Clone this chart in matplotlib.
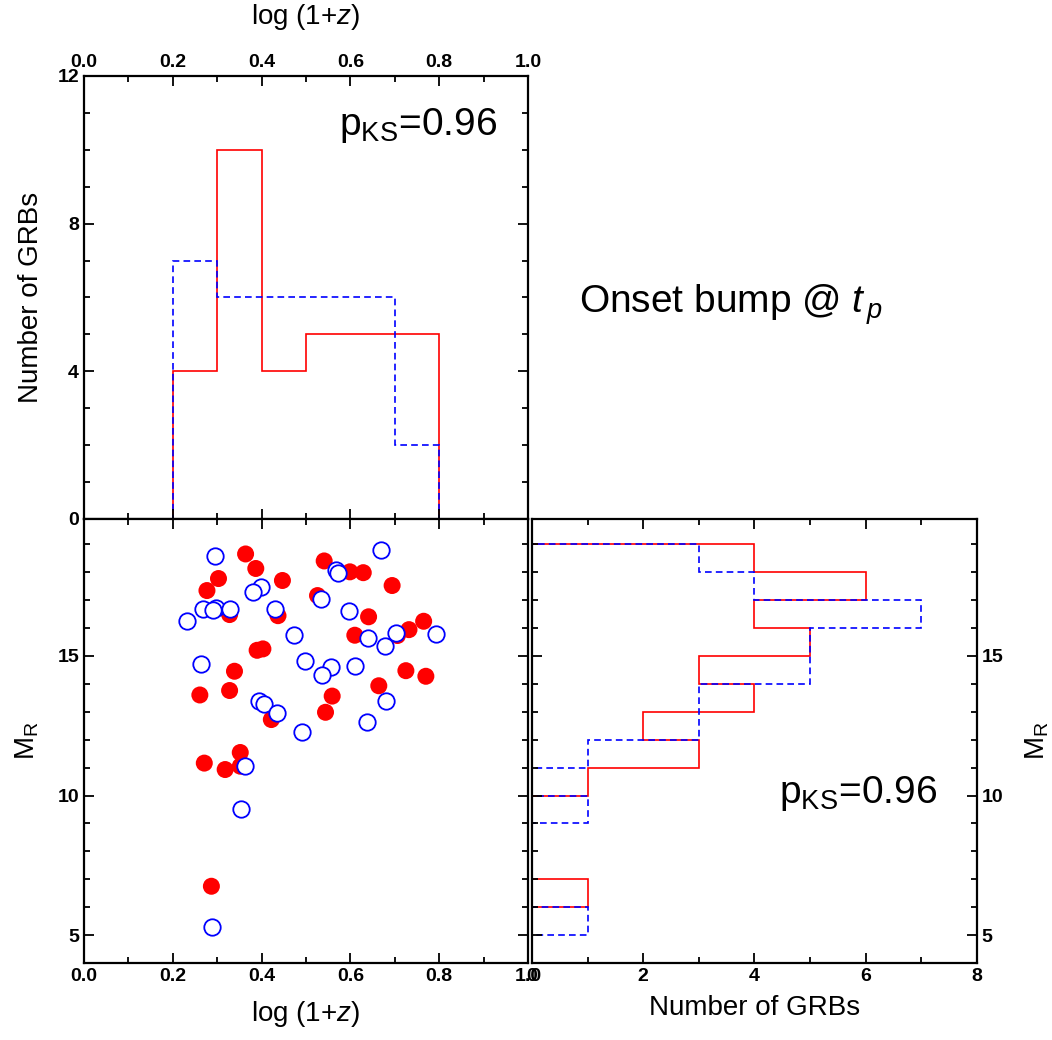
import numpy as np
import matplotlib
matplotlib.use("Agg")
import matplotlib.pyplot as plt

plt.rcParams['font.family'] = ['Liberation Sans', 'DejaVu Sans']
plt.rcParams['mathtext.fontset'] = 'custom'
plt.rcParams['mathtext.rm'] = 'Liberation Sans'
plt.rcParams['mathtext.it'] = 'Liberation Sans:italic'

# ---- data ----
# filled red sample: log(1+z), M_R
red_logz = [0.364, 0.387, 0.303, 0.277, 0.447, 0.541, 0.599, 0.629, 0.694, 0.526,
            0.328, 0.437, 0.641, 0.610, 0.732, 0.765, 0.706, 0.390, 0.403, 0.339,
            0.328, 0.261, 0.725, 0.770, 0.664, 0.559, 0.544, 0.422, 0.352, 0.271,
            0.318, 0.352, 0.287]
red_mr = [18.65, 18.13, 17.77, 17.34, 17.70, 18.40, 18.01, 17.98, 17.52, 17.16,
          16.48, 16.44, 16.40, 15.74, 15.94, 16.24, 15.73, 15.20, 15.25, 14.45,
          13.76, 13.60, 14.47, 14.27, 13.93, 13.56, 12.98, 12.72, 11.54, 11.16,
          10.93, 11.05, 6.75]

# open blue sample: log(1+z), M_R
blue_logz = [0.294, 0.670, 0.567, 0.572, 0.398, 0.381, 0.534, 0.267, 0.297, 0.291,
             0.330, 0.430, 0.231, 0.597, 0.472, 0.640, 0.703, 0.679, 0.793, 0.264,
             0.498, 0.557, 0.536, 0.610, 0.395, 0.405, 0.435, 0.680, 0.638, 0.491,
             0.363, 0.354, 0.288]
blue_mr = [18.57, 18.78, 18.07, 17.98, 17.46, 17.29, 17.03, 16.67, 16.70, 16.63,
           16.68, 16.68, 16.25, 16.61, 15.74, 15.63, 15.82, 15.37, 15.80, 14.70,
           14.82, 14.61, 14.31, 14.65, 13.40, 13.29, 12.95, 13.37, 12.62, 12.29,
           11.05, 9.52, 5.29]

z_edges = np.round(np.arange(0, 1.01, 0.1), 2)
mr_edges = np.arange(4, 20, 1)

red_z_counts, _ = np.histogram(red_logz, bins=z_edges)
blue_z_counts, _ = np.histogram(blue_logz, bins=z_edges)
red_mr_counts, _ = np.histogram(red_mr, bins=mr_edges)
blue_mr_counts, _ = np.histogram(blue_mr, bins=mr_edges)

RED = '#ff0000'
BLUE = '#0000ff'
DASH = (0, (4, 2.5))
TICK_FS = 14
LABEL_FS = 20
MR_LIM = (4, 19.9)


def style_axes(ax):
    for sp in ax.spines.values():
        sp.set_linewidth(1.6)
    ax.tick_params(which='both', direction='in', top=True, right=True,
                   width=1.3, labelsize=TICK_FS)
    ax.tick_params(which='major', length=7)
    ax.tick_params(which='minor', length=4)
    for lab in ax.get_xticklabels() + ax.get_yticklabels():
        lab.set_fontweight('bold')


fig = plt.figure(figsize=(10.52, 10.40), dpi=100)

# ============ top: log(1+z) histogram ============
ax_top = fig.add_axes([0.0798, 0.5010, 0.4221, 0.4260])
ax_top.stairs(red_z_counts, z_edges, baseline=0, color=RED, lw=1.2)
ax_top.stairs(blue_z_counts, z_edges, baseline=0, color=BLUE, lw=1.2, linestyle=DASH)
ax_top.set_xlim(0, 1)
ax_top.set_ylim(0, 12)
ax_top.set_xticks(np.arange(0, 1.01, 0.2))
ax_top.set_xticks(np.arange(0, 1.01, 0.1), minor=True)
ax_top.set_yticks([0, 4, 8, 12])
ax_top.set_yticks(np.arange(0, 13, 1), minor=True)
ax_top.xaxis.set_major_formatter(matplotlib.ticker.FormatStrFormatter('%.1f'))
ax_top.tick_params(labeltop=True, labelbottom=False)
ax_top.xaxis.set_label_position('top')
ax_top.set_xlabel(r'log (1+$\it{z}$)', fontsize=LABEL_FS, labelpad=22)
ax_top.set_ylabel('Number of GRBs', fontsize=LABEL_FS, labelpad=10)
style_axes(ax_top)
ax_top.text(0.93, 0.867, r'p$_{\rm KS}$=0.96', transform=ax_top.transAxes,
            ha='right', va='baseline', fontsize=28)

# ============ bottom-left: scatter ============
ax_sc = fig.add_axes([0.0798, 0.0740, 0.4221, 0.4269])
ax_sc.scatter(red_logz, red_mr, s=150, color=RED, edgecolors='none', zorder=2)
ax_sc.scatter(blue_logz, blue_mr, s=140, facecolors='white', edgecolors=BLUE,
              linewidths=1.3, zorder=3)
ax_sc.set_xlim(0, 1)
ax_sc.set_ylim(*MR_LIM)
ax_sc.set_xticks(np.arange(0, 1.01, 0.2))
ax_sc.set_xticks(np.arange(0, 1.01, 0.1), minor=True)
ax_sc.set_yticks([5, 10, 15])
ax_sc.set_yticks(np.arange(4, 20, 1), minor=True)
ax_sc.xaxis.set_major_formatter(matplotlib.ticker.FormatStrFormatter('%.1f'))
ax_sc.set_xlabel(r'log (1+$\it{z}$)', fontsize=LABEL_FS, labelpad=10)
ax_sc.set_ylabel(r'M$_{\rm R}$', fontsize=LABEL_FS, labelpad=12)
style_axes(ax_sc)

# ============ bottom-right: M_R histogram ============
ax_r = fig.add_axes([0.5057, 0.0740, 0.4230, 0.4269])
ax_r.stairs(red_mr_counts, mr_edges, baseline=0, orientation='horizontal',
            color=RED, lw=1.2)
ax_r.stairs(blue_mr_counts, mr_edges, baseline=0, orientation='horizontal',
            color=BLUE, lw=1.2, linestyle=DASH)
ax_r.set_xlim(0, 8)
ax_r.set_ylim(*MR_LIM)
ax_r.set_xticks([0, 2, 4, 6, 8])
ax_r.set_xticks(np.arange(0, 9, 1), minor=True)
ax_r.set_yticks([5, 10, 15])
ax_r.set_yticks(np.arange(4, 20, 1), minor=True)
ax_r.tick_params(labelleft=False, labelright=True)
ax_r.yaxis.set_label_position('right')
ax_r.set_xlabel('Number of GRBs', fontsize=LABEL_FS, labelpad=7)
ax_r.set_ylabel(r'M$_{\rm R}$', fontsize=LABEL_FS, labelpad=14)
style_axes(ax_r)
ax_r.text(0.91, 0.36, r'p$_{\rm KS}$=0.96', transform=ax_r.transAxes,
          ha='right', va='baseline', fontsize=28)

fig.text(0.550, 0.699, r'Onset bump @ $\it{t}_{\,\it{p}}$', ha='left', va='baseline',
         fontsize=28)

fig.savefig('out.png', dpi=100)
